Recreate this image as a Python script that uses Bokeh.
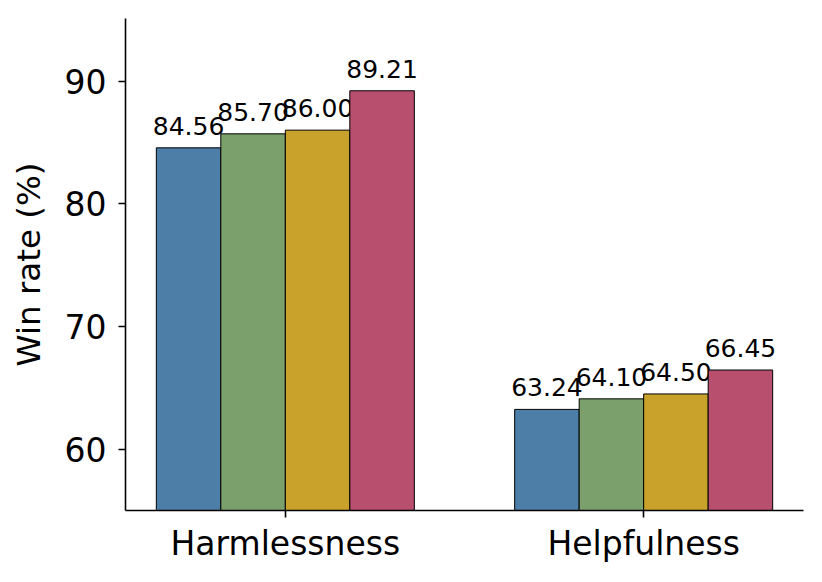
from bokeh.plotting import figure
from bokeh.models import ColumnDataSource, Range1d, FixedTicker
from bokeh.core.properties import value
from bokeh.embed import file_html
from bokeh.resources import INLINE

categories = ["Harmlessness", "Helpfulness"]
series_names = ["Method 1", "Method 2", "Method 3", "Method 4"]
series_values = [
    [84.56, 63.24],
    [85.70, 64.10],
    [86.00, 64.50],
    [89.21, 66.45],
]
series_colors = ["#4C7EA8", "#7BA06B", "#C9A22B", "#B84F6E"]
y_ticks = [60, 70, 80, 90]

bar_w = 0.18
n = len(series_names)

p = figure(width=822, height=582, output_backend="svg", toolbar_location=None,
           x_range=Range1d(-0.446, 1.446), y_range=Range1d(55, 95.1),
           min_border_left=125, min_border_right=19, min_border_top=18,
           min_border_bottom=72)
p.background_fill_color = "white"
p.border_fill_color = "white"
p.outline_line_color = None
p.xgrid.visible = False
p.ygrid.visible = False

FONT = "DejaVu Sans"

for i, (name, vals, col) in enumerate(zip(series_names, series_values, series_colors)):
    off = (i - (n - 1) / 2) * bar_w
    xs = [g + off for g in range(len(categories))]
    src = ColumnDataSource(dict(x=xs, top=vals, lab=[f"{v:.2f}" for v in vals]))
    p.vbar(x="x", top="top", bottom=0, width=bar_w, source=src,
           fill_color=col, line_color="black", line_width=1)
    p.text(x="x", y="top", text="lab", source=src, text_align="center",
           text_baseline="alphabetic", y_offset=-22, text_font=value(FONT),
           text_font_size="25px", text_color="black")

p.xaxis.ticker = FixedTicker(ticks=list(range(len(categories))))
p.xaxis.major_label_overrides = {i: c for i, c in enumerate(categories)}
p.yaxis.ticker = FixedTicker(ticks=y_ticks)
p.xaxis.minor_tick_line_color = None
p.yaxis.minor_tick_line_color = None
for ax in (p.xaxis[0], p.yaxis[0]):
    ax.axis_line_width = 1.6
    ax.axis_line_color = "black"
    ax.major_tick_line_width = 1.6
    ax.major_tick_line_color = "black"
    ax.major_tick_out = 7
    ax.major_tick_in = 0
    ax.major_label_text_font = FONT
    ax.major_label_text_font_size = "33px"
    ax.major_label_text_color = "black"
p.xaxis.major_label_standoff = 6
p.yaxis.major_label_standoff = 12
p.yaxis.axis_label = "Win rate (%)"
p.yaxis.axis_label_text_font = FONT
p.yaxis.axis_label_text_font_size = "32.5px"
p.yaxis.axis_label_text_font_style = "normal"
p.yaxis.axis_label_text_color = "black"
p.yaxis.axis_label_standoff = 14

open("out.html", "w").write(file_html(p, INLINE))
